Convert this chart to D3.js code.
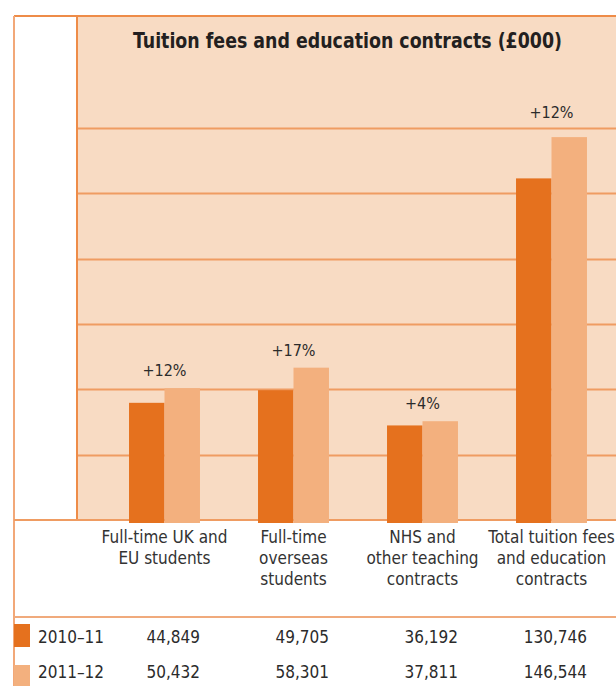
<!DOCTYPE html>
<html><head><meta charset="utf-8">
<script src="https://cdn.jsdelivr.net/npm/d3@7"></script>
<style>body{margin:0;background:#fff}svg{display:block}</style>
</head><body>
<svg id="c" width="616" height="686"></svg>
<script>
const categories = ["Full-time UK and EU students","Full-time overseas students","NHS and other teaching contracts","Total tuition fees and education contracts"];
const categoryLines = [["Full-time UK and","EU students"],["Full-time","overseas","students"],["NHS and","other teaching","contracts"],["Total tuition fees","and education","contracts"]];
const years = ["2010–11","2011–12"];
const values2010 = [44849, 49705, 36192, 130746];
const values2011 = [50432, 58301, 37811, 146544];
const changeLabels = ["+12%","+17%","+4%","+12%"];
const gridTicks = [25000, 50000, 75000, 100000, 125000, 150000];
const title = "Tuition fees and education contracts (£000)";

const colors = ["#E5711E", "#F3B07E"];
const bg = "#F8DBC3", grid = "#EF9C62", border = "#EE8C48";
const font = "'Liberation Sans Narrow','DejaVu Sans Condensed','Liberation Sans',sans-serif";

const svg = d3.select("#c");
const baseY = 520, topY = 16;
const y = d3.scaleLinear().domain([0, 192900]).range([baseY, topY]);
const x = d3.scaleBand().domain(categories).range([100, 616]).paddingInner(0.45).paddingOuter(0.225);
const xs = d3.scaleBand().domain(years).range([0, x.bandwidth()]);

// plot background
svg.append("rect").attr("x", 77).attr("y", topY).attr("width", 616 - 77).attr("height", baseY - topY).attr("fill", bg);

// gridlines
svg.append("g").selectAll("line").data(gridTicks).join("line")
  .attr("x1", 78).attr("x2", 616).attr("y1", d => Math.round(y(d)) + 0.5).attr("y2", d => Math.round(y(d)) + 0.5)
  .attr("stroke", grid).attr("stroke-width", 2);

// frame lines
svg.append("line").attr("x1", 14).attr("x2", 616).attr("y1", topY).attr("y2", topY).attr("stroke", border).attr("stroke-width", 2);
svg.append("line").attr("x1", 14).attr("x2", 14).attr("y1", topY).attr("y2", 686).attr("stroke", "#F2A878").attr("stroke-width", 2);
svg.append("line").attr("x1", 77).attr("x2", 77).attr("y1", topY).attr("y2", baseY).attr("stroke", border).attr("stroke-width", 2);
svg.append("line").attr("x1", 14).attr("x2", 616).attr("y1", baseY).attr("y2", baseY).attr("stroke", grid).attr("stroke-width", 2);
svg.append("line").attr("x1", 14).attr("x2", 616).attr("y1", 617).attr("y2", 617).attr("stroke", "#F0AA7C").attr("stroke-width", 2);

// bars
const series = [values2010, values2011];
series.forEach((vals, si) => {
  svg.append("g").selectAll("rect").data(categories).join("rect")
    .attr("x", (c) => x(c) + xs(years[si]))
    .attr("width", xs.bandwidth())
    .attr("y", (c, i) => y(vals[i]))
    .attr("height", (c, i) => baseY - y(vals[i]) + 3)
    .attr("fill", colors[si]);
});

// change labels
svg.append("g").selectAll("text").data(categories).join("text")
  .attr("x", c => x(c) + x.bandwidth() / 2)
  .attr("y", (c, i) => y(Math.max(values2010[i], values2011[i])) - (i === 3 ? 19 : 12))
  .attr("text-anchor", "middle").attr("font-family", font).attr("font-size", 16).attr("fill", "#2b2b2b")
  .text((c, i) => changeLabels[i]);

// title
svg.append("text").attr("x", 133).attr("y", 48)
  .attr("textLength", 429).attr("lengthAdjust", "spacingAndGlyphs")
  .attr("font-family", font).attr("font-weight", "bold").attr("font-size", 21.5).attr("fill", "#231f20")
  .text(title);

// category labels
const cl = svg.append("g").selectAll("text").data(categories).join("text")
  .attr("text-anchor", "middle").attr("font-family", font).attr("font-size", 17).attr("fill", "#333");
cl.each(function (c, i) {
  d3.select(this).selectAll("tspan").data(categoryLines[i]).join("tspan")
    .attr("x", x(c) + x.bandwidth() / 2)
    .attr("y", (d, j) => 543 + j * 21)
    .text(d => d);
});

// legend table
years.forEach((yr, si) => {
  const rowY = si === 0 ? 637 : 672;
  svg.append("rect").attr("x", 14).attr("y", si === 0 ? 624 : 665).attr("width", 16).attr("height", si === 0 ? 23 : 21).attr("fill", colors[si]);
  svg.append("text").attr("x", 38).attr("y", rowY + 6).attr("font-family", font).attr("font-size", 17).attr("fill", "#2b2b2b").text(yr);
  svg.append("g").selectAll("text").data(categories).join("text")
    .attr("x", c => x(c) + x.bandwidth())
    .attr("y", rowY + 6)
    .attr("text-anchor", "end").attr("font-family", font).attr("font-size", 17).attr("fill", "#2b2b2b")
    .text((c, i) => d3.format(",")(series[si][i]));
});
</script>
</body></html>
